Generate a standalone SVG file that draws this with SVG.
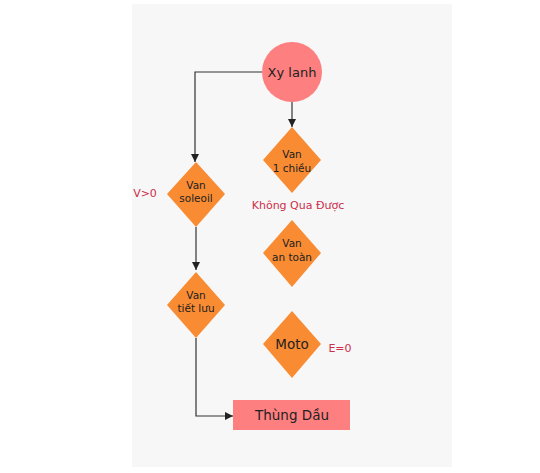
<svg xmlns="http://www.w3.org/2000/svg" width="540" height="473" viewBox="0 0 540 473">
<style>
.d{fill:#f98b32}
.p{fill:#fe7f7f}
text{font-family:"DejaVu Sans",Verdana,sans-serif;text-anchor:middle;fill:#222}
.s{font-size:10.5px}
.l{font-size:11px;fill:#cc2e4a}
.c{fill:none;stroke:#333;stroke-width:1.2}
</style>
<defs>
<marker id="a" markerWidth="10" markerHeight="10" refX="8" refY="5" orient="auto" markerUnits="userSpaceOnUse">
<path d="M0,1 L8,5 L0,9 Z" fill="#222"/>
</marker>
</defs>
<rect width="540" height="473" fill="#fff"/>
<rect x="132" y="4" width="320" height="463" fill="#f7f7f7"/>
<g id="connectors">
<path class="c" d="M262,72 H195 V162" marker-end="url(#a)"/>
<path class="c" d="M292,102 V127" marker-end="url(#a)"/>
<path class="c" d="M196,227 V270" marker-end="url(#a)"/>
<path class="c" d="M196,338 V416 H233" marker-end="url(#a)"/>
</g>
<g id="xylanh">
<circle class="p" cx="292" cy="72" r="30"/>
<text x="292" y="77" font-size="13">Xy lanh</text>
</g>
<g id="van1chieu">
<path class="d" d="M292,127 L321,160 L292,193 L263,160 Z"/>
<text class="s" x="292" y="158">Van</text>
<text class="s" x="292" y="172">1 chiều</text>
</g>
<g id="vansoleoil">
<path class="d" d="M196,162 L225,194 L196,227 L167,194 Z"/>
<text class="s" x="196" y="189">Van</text>
<text class="s" x="196" y="202">soleoil</text>
</g>
<g id="vanantoan">
<path class="d" d="M292,220 L321,253 L292,287 L263,253 Z"/>
<text class="s" x="292" y="247">Van</text>
<text class="s" x="292" y="261">an toàn</text>
</g>
<g id="vantietluu">
<path class="d" d="M196,272 L225,305 L196,338 L167,305 Z"/>
<text class="s" x="196" y="299">Van</text>
<text class="s" x="196" y="312">tiết lưu</text>
</g>
<g id="moto">
<path class="d" d="M292,311 L321,344 L292,378 L263,344 Z"/>
<text x="292" y="349" font-size="13.5">Moto</text>
</g>
<g id="thungdau">
<rect class="p" x="233" y="400" width="117" height="30"/>
<text x="292" y="420" font-size="13.5">Thùng Dầu</text>
</g>
<g id="labels">
<text class="l" x="145" y="197">V&gt;0</text>
<text class="l" x="298" y="209">Không Qua Được</text>
<text class="l" x="340" y="352">E=0</text>
</g>
</svg>
